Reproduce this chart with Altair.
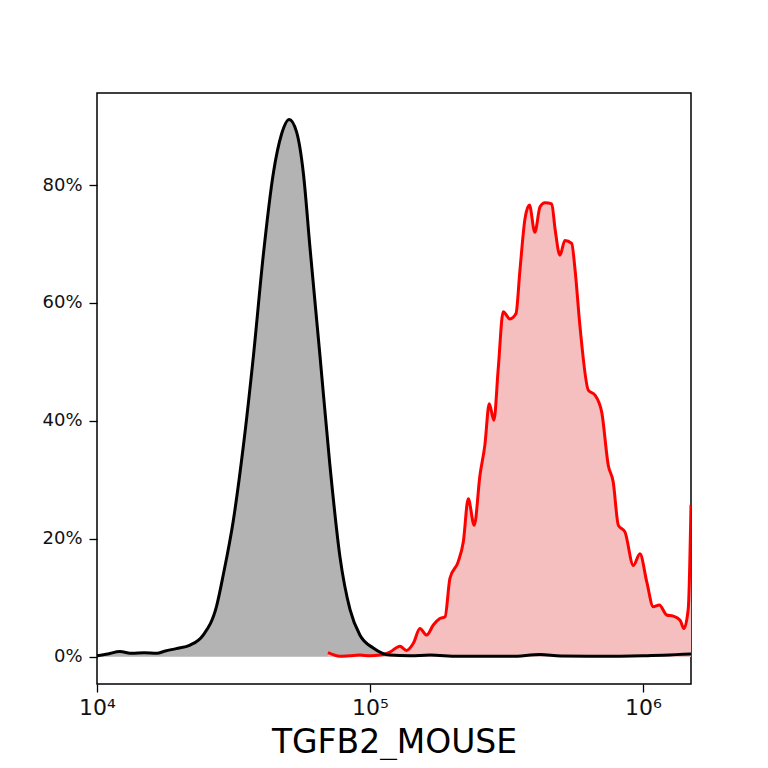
import altair as alt
import pandas as pd

# Control (gray) histogram: fluorescence intensity vs % of max
ctrl_x = [10000, 10970, 12130, 13430, 14870, 16560, 17780, 19500, 21930, 24490,
          27420, 29040, 31550, 34360, 37410, 40640, 44260, 47420, 50580, 53830,
          57020, 60260, 65610, 71290, 77620, 84530, 91830, 102800, 118300, 140000,
          166000, 210000, 252900, 330000, 419800, 500000, 695000, 1000000, 1500000]
ctrl_y = [0.2, 0.5, 0.9, 0.6, 0.7, 0.6, 1.0, 1.4, 2.0, 3.7,
          8.6, 14.0, 23.0, 35.7, 51.0, 68.0, 82.0, 88.6, 91.1, 89.0,
          82.0, 69.5, 51.0, 32.6, 17.0, 8.0, 3.7, 1.5, 0.3, 0.2,
          0.3, 0.1, 0.1, 0.1, 0.4, 0.15, 0.1, 0.2, 0.5]

# Sample (red) histogram
sample_x = [70150, 77620, 84530, 91830, 100000, 108900, 118300, 128800, 136100, 144200,
            152400, 161400, 170600, 180300, 188400, 196300, 210400, 219800, 229100, 241000,
            252900, 263600, 273500, 284400, 295100, 307600, 325800, 342800, 354000, 369800,
            383700, 401800, 419800, 437500, 463400, 476400, 496600, 517600, 548300, 563600,
            587500, 631000, 666800, 706300, 746400, 778000, 812800, 859000, 922600, 975000,
            1033000, 1091000, 1148000, 1222000, 1291000, 1368000, 1413000, 1466000, 1500000]
sample_y = [0.7, 0.1, 0.2, 0.3, 0.2, 0.3, 0.8, 1.8, 1.1, 2.3,
            4.8, 3.7, 5.4, 6.5, 6.8, 13.3, 16.1, 19.5, 26.8, 22.3,
            30.8, 35.9, 42.9, 40.1, 48.9, 58.5, 57.3, 58.2, 65.3, 74.3,
            76.6, 72.0, 76.3, 77.0, 76.8, 72.6, 68.1, 70.6, 70.1, 65.8,
            56.2, 45.2, 44.4, 41.5, 32.5, 29.7, 22.3, 21.2, 15.5, 17.5,
            12.7, 8.5, 8.8, 7.1, 6.9, 6.2, 4.8, 8.2, 25.8]

y_ticks = [0, 20, 40, 60, 80]
x_ticks = [10000, 100000, 1000000]

ctrl = pd.DataFrame({"x": ctrl_x, "y": ctrl_y})
sample = pd.DataFrame({"x": sample_x, "y": sample_y})

xs = alt.Scale(type="log", domain=[10000, 1500000], nice=False)
ys = alt.Scale(domain=[-4.6, 95.6], nice=False, zero=False)

x_enc = alt.X("x:Q", scale=xs, title="TGFB2_MOUSE",
              axis=alt.Axis(values=x_ticks,
                            labelExpr="datum.value == 10000 ? '10⁴' : datum.value == 100000 ? '10⁵' : '10⁶'",
                            domain=False, grid=False, tickColor="black", tickSize=8, tickWidth=1.3,
                            labelFontSize=22, labelColor="#111", labelPadding=5, labelFlush=False,
                            labelFont="DejaVu Sans", titleFont="DejaVu Sans",
                            titleFontSize=33, titleFontWeight="normal", titleColor="black",
                            titlePadding=8))
y_enc = alt.Y("y:Q", scale=ys, title=None,
              axis=alt.Axis(values=y_ticks, labelExpr="datum.value + '%'",
                            domain=False, grid=False, tickColor="black", tickSize=8, tickWidth=1.3,
                            labelFontSize=18, labelColor="#111", labelPadding=7, labelFlush=False,
                            labelFont="DejaVu Sans"))

ctrl_area = alt.Chart(ctrl).mark_area(color="#b3b3b3", interpolate="monotone", clip=True).encode(
    x=x_enc, y=y_enc, y2=alt.datum(0))
ctrl_line = alt.Chart(ctrl).mark_line(color="black", strokeWidth=3, interpolate="monotone", clip=True).encode(
    x=alt.X("x:Q", scale=xs), y=alt.Y("y:Q", scale=ys))
samp_area = alt.Chart(sample).mark_area(color="#f5bfbf", interpolate="monotone", clip=True).encode(
    x=alt.X("x:Q", scale=xs), y=alt.Y("y:Q", scale=ys), y2=alt.datum(0))
samp_line = alt.Chart(sample).mark_line(color="#ff0000", strokeWidth=3, interpolate="monotone", clip=True).encode(
    x=alt.X("x:Q", scale=xs), y=alt.Y("y:Q", scale=ys))

chart = alt.layer(ctrl_area, samp_area, samp_line, ctrl_line).properties(
    width=594, height=591,
    autosize=alt.AutoSizeParams(type="none"),
    padding={"left": 89, "top": 85, "right": 69, "bottom": 76},
).configure(background="white").configure_view(stroke="black", strokeWidth=1.5)

chart.save("out.html", embed_options={"renderer": "svg", "actions": False})
